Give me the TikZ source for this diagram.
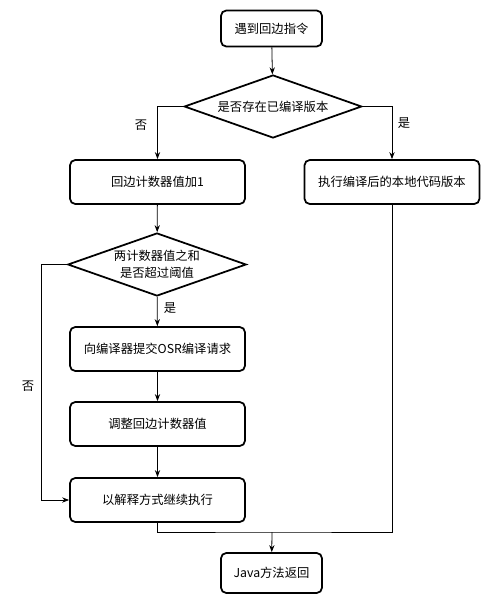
\documentclass[tikz,border=0pt]{standalone}
\usepackage{fontspec}
\newfontfamily\cjk{Noto Sans CJK SC}
\usetikzlibrary{shapes.geometric,arrows.meta}

\tikzset{
    stepbox/.style={draw, line width=1pt, rounded corners=3pt, minimum width=3.5cm, minimum height=0.88cm, align=center},
    endbox/.style={stepbox, minimum width=2.02cm, minimum height=0.72cm},
    decide/.style={draw, diamond, line width=1pt, aspect=2.8, inner sep=0pt, minimum width=3.55cm, minimum height=1.26cm, align=center},
    flow/.style={line width=0.45pt, -{Stealth[length=4pt, width=3pt]}},
    link/.style={line width=0.45pt},
    tag/.style={inner sep=1pt}
}

\begin{document}
\begin{tikzpicture}[x=0.02cm, y=-0.02cm, font=\cjk\fontsize{7pt}{9.5pt}\selectfont]
                \useasboundingbox (0,0) rectangle (503,603);

                % Steps
                \node[endbox] (start) at (271.5,28.5) {遇到回边指令};
                \node[decide] (compiled) at (273,106.5) {是否存在已编译版本};
                \node[stepbox] (incr) at (157.5,182) {回边计数器值加1};
                \node[stepbox] (native) at (392,182) {执行编译后的本地代码版本};
                \node[decide, minimum width=3.57cm] (sum) at (157,264.5) {两计数器值之和\\是否超过阈值};
                \node[stepbox] (osr) at (157.5,349) {向编译器提交OSR编译请求};
                \node[stepbox] (adjust) at (157.5,424) {调整回边计数器值};
                \node[stepbox] (interp) at (157.5,500) {以解释方式继续执行};
                \node[endbox, minimum height=0.8cm] (ret) at (271.5,573) {Java方法返回};

                % Branch labels
                \node[tag] (no1) at (141,125) {否};
                \node[tag] (yes1) at (404,123) {是};
                \node[tag] (yes2) at (170,308) {是};
                \node[tag] (no2) at (28,386) {否};

                % Connectors
                \coordinate (back) at (41,264.5);
                \coordinate (merge) at (272,532);
                \draw[flow] (start) -- (compiled);
                \draw[flow] (compiled.west) -| (incr.north);
                \draw[flow] (compiled.east) -| (native.north);
                \draw[flow] (incr) -- (sum);
                \draw[flow] (sum) -- (osr);
                \draw[flow] (osr) -- (adjust);
                \draw[flow] (adjust) -- (interp);
                \draw[flow] (sum.west) -- (back) |- (interp.west);
                \draw[link] (interp.south) |- (merge) -| (native.south);
                \draw[flow] (merge) -- (ret);

            \end{tikzpicture}
\end{document}
